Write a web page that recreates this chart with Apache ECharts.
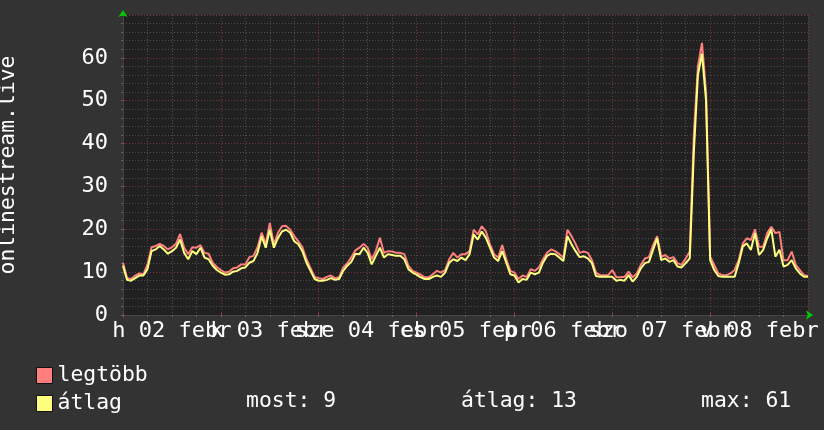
<!DOCTYPE html>
<html>
<head>
<meta charset="utf-8">
<script src="https://cdn.jsdelivr.net/npm/echarts@6.0.0/dist/echarts.min.js"></script>
<style>
html,body{margin:0;padding:0;background:#333333;}
#chart{width:824px;height:430px;}
</style>
</head>
<body>
<div id="chart"></div>
<script>
// hours since Monday 2 Feb 00:00 (one sample per hour, 0..168)
const dayLabels = ['h 02 febr', 'k 03 febr', 'sze 04 febr', 'cs 05 febr', 'p 06 febr', 'szo 07 febr', 'v 08 febr'];
const yTickLabels = [0, 10, 20, 30, 40, 50, 60];
const seriesNames = ['legtöbb', 'átlag'];
const statLabels = ['most: 9', 'átlag: 13', 'max: 61'];

const maxValues = [
  12.2, 8.6, 8.4, 9.2, 9.7, 9.5, 11.8, 15.8, 16.1, 16.6, 16.1, 15.3, 15.8, 16.6, 18.9, 15.7, 14.2, 15.8, 15.7, 16.3, 14.5, 14.3, 12.2, 11.2,
  10.5, 9.9, 10.1, 10.9, 11.1, 11.8, 11.8, 13.5, 13.8, 15.8, 19.2, 16.6, 21.5, 16.5, 19.2, 20.7, 20.8, 19.9, 18.4, 17.2, 15.8, 13.0, 10.9, 8.9,
  8.6, 8.4, 8.9, 9.2, 8.6, 8.8, 11.1, 12.0, 13.5, 15.1, 15.7, 16.6, 15.7, 13.0, 14.9, 18.0, 14.5, 14.9, 14.8, 14.5, 14.5, 14.2, 11.5, 10.3,
  9.9, 9.4, 8.8, 8.8, 9.5, 10.3, 9.9, 10.5, 13.0, 14.5, 13.4, 14.2, 14.2, 14.9, 19.9, 18.8, 20.7, 19.5, 16.5, 14.2, 13.4, 16.3, 13.0, 10.3,
  9.9, 8.4, 9.2, 8.9, 10.7, 10.3, 11.1, 13.0, 14.5, 15.3, 14.9, 14.2, 13.4, 19.9, 18.4, 16.6, 14.5, 14.8, 14.5, 12.8, 9.9, 9.3, 9.3, 9.3,
  10.5, 8.8, 8.8, 8.9, 10.1, 8.8, 9.7, 11.7, 13.2, 13.5, 16.3, 18.4, 13.6, 14.0, 13.2, 13.5, 12.1, 11.7, 13.2, 14.8, 42.0, 58.0, 63.5, 52.0,
  13.6, 11.7, 9.7, 9.3, 9.3, 9.7, 10.5, 12.8, 16.7, 17.9, 17.5, 20.0, 15.9, 15.9, 19.1, 20.6, 19.1, 19.4, 12.8, 12.8, 14.8, 11.7, 10.5, 9.3,
  9.1
];
const avgValues = [
  11.5, 8.2, 8.0, 8.6, 9.2, 9.2, 10.7, 14.9, 15.3, 16.1, 15.3, 14.3, 14.9, 15.7, 17.6, 14.5, 13.0, 14.9, 14.2, 15.7, 13.4, 13.0, 11.5, 10.5,
  9.9, 9.4, 9.5, 10.1, 10.3, 10.9, 11.1, 12.2, 12.6, 14.5, 18.4, 15.7, 19.9, 15.7, 18.0, 19.5, 19.9, 19.2, 17.2, 16.5, 14.9, 12.2, 10.3, 8.4,
  8.0, 8.0, 8.2, 8.6, 8.2, 8.4, 10.3, 11.5, 12.4, 14.3, 14.2, 15.7, 14.5, 11.8, 13.8, 15.7, 13.4, 14.2, 14.0, 13.8, 13.8, 13.0, 10.7, 9.9,
  9.4, 8.8, 8.4, 8.4, 8.9, 9.2, 8.9, 9.9, 12.2, 13.0, 12.6, 13.4, 12.8, 14.2, 18.8, 17.6, 19.5, 18.0, 15.7, 13.4, 12.6, 14.9, 12.2, 9.5,
  9.2, 7.6, 8.4, 8.2, 9.9, 9.5, 9.9, 12.2, 13.8, 14.3, 14.2, 13.4, 12.6, 18.4, 16.5, 14.9, 13.5, 13.7, 13.2, 12.1, 9.1, 8.9, 8.9, 8.9,
  8.9, 8.0, 8.2, 8.0, 9.3, 7.8, 8.9, 10.9, 12.1, 12.4, 15.2, 17.9, 12.8, 13.2, 12.4, 12.8, 11.3, 11.1, 12.1, 13.2, 38.0, 56.0, 61.0, 50.0,
  12.8, 10.5, 9.1, 8.9, 8.9, 8.9, 8.9, 12.1, 16.0, 16.7, 15.2, 19.1, 14.0, 15.2, 17.9, 20.0, 13.6, 15.2, 11.3, 11.7, 12.8, 10.9, 9.7, 8.9,
  8.9
];

const FONT = 'DejaVu Sans Mono';
const toPairs = arr => arr.map((v, i) => [i, v]);

const chart = echarts.init(document.getElementById('chart'), null, {renderer: 'canvas'});
const hidden = {show: false};

chart.setOption({
  animation: false,
  backgroundColor: '#333333',
  textStyle: {fontFamily: FONT},
  grid: {
    left: 123, right: 16, top: 15, bottom: 115,
    show: true, backgroundColor: '#212121', borderWidth: 0,
    outerBoundsMode: 'none', containLabel: false
  },
  legend: {
    orient: 'vertical', left: 31, top: 360, itemWidth: 16, itemHeight: 16, itemGap: 7,
    icon: 'rect',
    itemStyle: {borderColor: '#111', borderWidth: 1},
    textStyle: {color: '#ffffff', fontFamily: FONT, fontSize: 21.4},
    data: seriesNames
  },
  xAxis: [
    {
      type: 'value', min: 0, max: 168, interval: 6,
      axisLine: {show: true, lineStyle: {color: '#444444', width: 1}},
      axisTick: {show: true, length: 2, lineStyle: {color: '#666666'}},
      axisLabel: {
        show: true, color: '#ffffff', fontFamily: FONT, fontSize: 22, margin: 5,
        hideOverlap: false,
        formatter: v => (v % 24 === 12 ? dayLabels[(v - 12) / 24] : '')
      },
      splitLine: {show: true, lineStyle: {color: '#4e4e4e', width: 1, type: [1, 2]}}
    },
    {
      type: 'value', min: 0, max: 168, interval: 24,
      axisLine: hidden, axisLabel: hidden,
      axisTick: {show: true, length: 2, lineStyle: {color: '#8a3a3a'}},
      splitLine: {show: true, lineStyle: {color: '#7a3434', width: 1, type: [1, 2]}}
    },
    {
      type: 'value', min: 0, max: 168,
      axisLine: {show: true, symbol: ['none', 'arrow'], symbolSize: [7, 7], symbolOffset: [0, 5],
                 lineStyle: {color: '#00cc00', width: 0}},
      axisTick: hidden, axisLabel: hidden, splitLine: hidden
    }
  ],
  yAxis: [
    {
      type: 'value', min: 0, max: 70, interval: 2,
      name: 'onlinestream.live', nameLocation: 'middle', nameGap: 104,
      nameTextStyle: {color: '#ffffff', fontFamily: FONT, fontSize: 21.4},
      axisLine: {show: true, lineStyle: {color: '#444444', width: 1}},
      axisTick: {show: true, length: 2, lineStyle: {color: '#666666'}},
      axisLabel: {
        show: true, color: '#ffffff', fontFamily: FONT, fontSize: 22, margin: 15,
        formatter: v => (yTickLabels.indexOf(v) >= 0 ? String(v) : '')
      },
      splitLine: {show: true, lineStyle: {color: '#4e4e4e', width: 1, type: [1, 2]}}
    },
    {
      type: 'value', min: 0, max: 70, interval: 10,
      axisLine: hidden, axisLabel: hidden,
      axisTick: {show: true, length: 2, lineStyle: {color: '#8a3a3a'}},
      splitLine: {show: true, lineStyle: {color: '#7a3434', width: 1, type: [1, 2]}}
    },
    {
      type: 'value', min: 0, max: 70,
      axisLine: {show: true, symbol: ['none', 'arrow'], symbolSize: [7, 7], symbolOffset: [0, 5],
                 lineStyle: {color: '#00cc00', width: 0}},
      axisTick: hidden, axisLabel: hidden, splitLine: hidden
    }
  ],
  series: [
    {
      name: seriesNames[0], type: 'line', xAxisIndex: 0, yAxisIndex: 0,
      data: toPairs(maxValues), showSymbol: false, symbol: 'none',
      color: '#ff7f7f', lineStyle: {color: '#ff7f7f', width: 2}, z: 3
    },
    {
      name: seriesNames[1], type: 'line', xAxisIndex: 0, yAxisIndex: 0,
      data: toPairs(avgValues), showSymbol: false, symbol: 'none',
      color: '#ffff7f', lineStyle: {color: '#ffff7f', width: 2}, z: 4
    }
  ],
  graphic: [
    {type: 'text', left: 246, top: 391, style: {text: statLabels[0], fill: '#ffffff', font: '21.4px "DejaVu Sans Mono"'}},
    {type: 'text', left: 461, top: 391, style: {text: statLabels[1], fill: '#ffffff', font: '21.4px "DejaVu Sans Mono"'}},
    {type: 'text', left: 701, top: 391, style: {text: statLabels[2], fill: '#ffffff', font: '21.4px "DejaVu Sans Mono"'}}
  ]
});
</script>
</body>
</html>
